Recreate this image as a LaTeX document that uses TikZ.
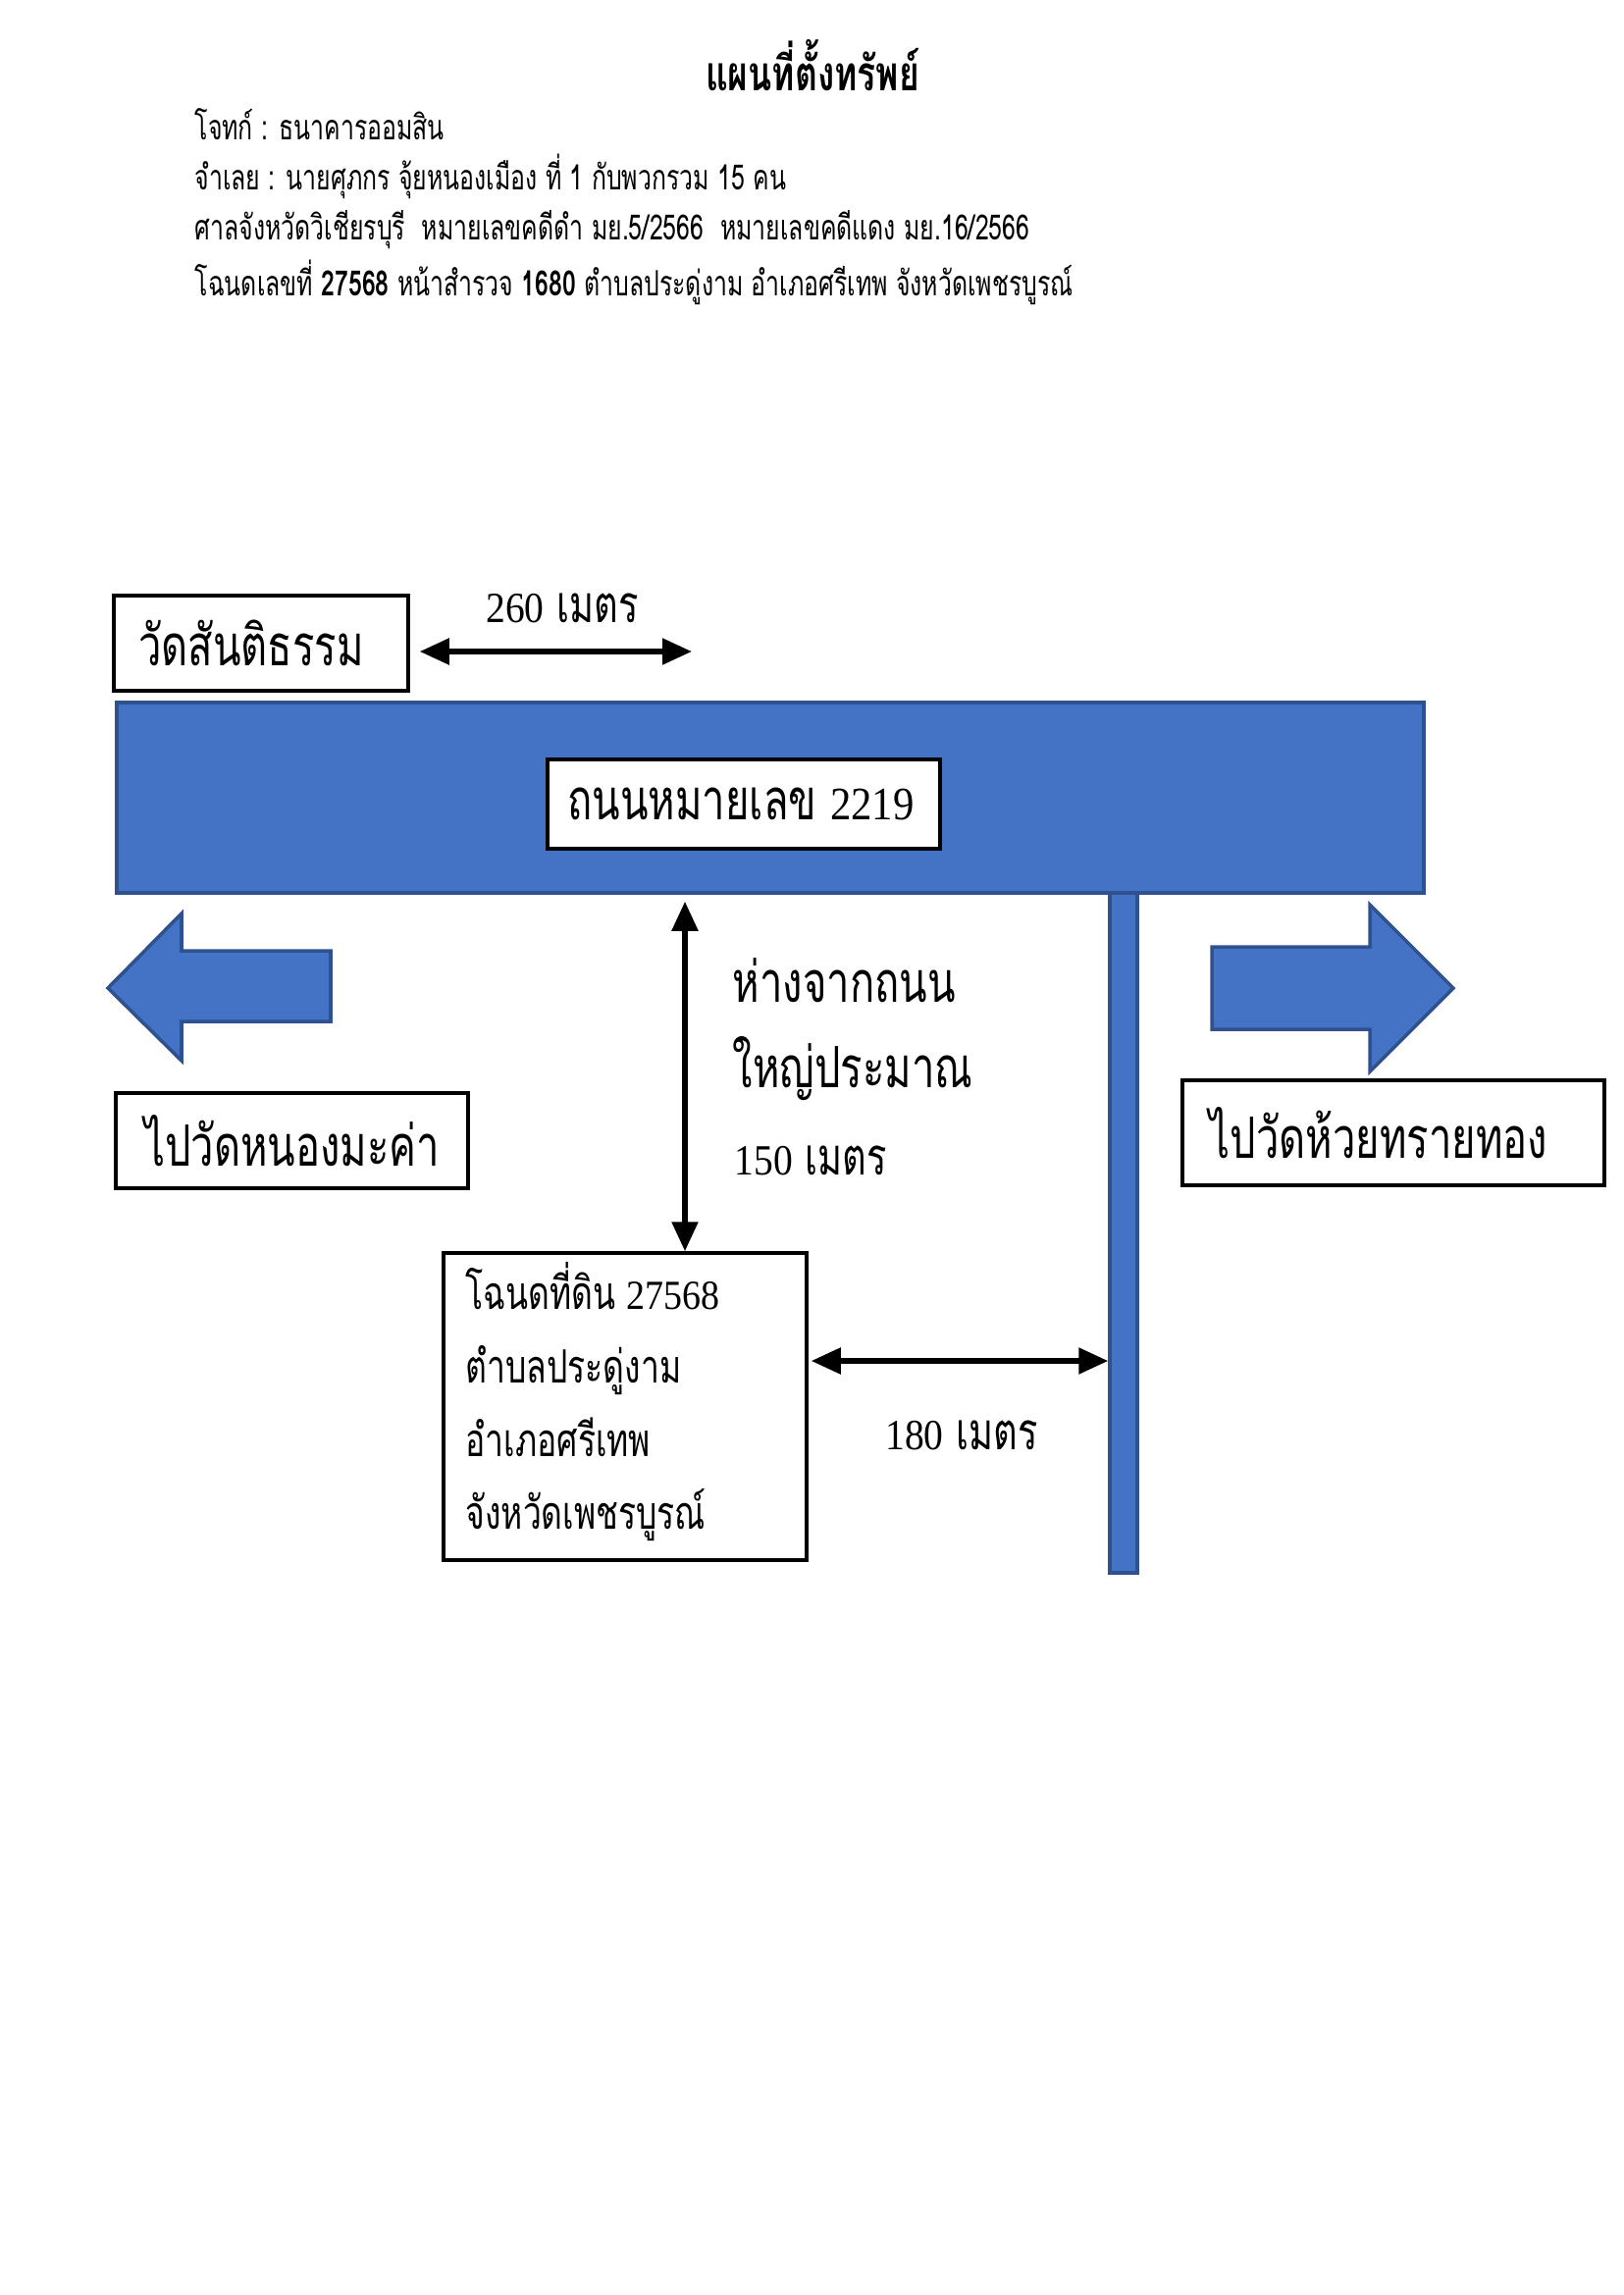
\documentclass[tikz,border=0pt]{standalone}
\usepackage{fontspec}
\usetikzlibrary{arrows.meta}
\newfontfamily\thaihead[Script=Thai,FakeStretch=0.7]{Loma}
\newfontfamily\thaititle[Script=Thai,FakeStretch=0.72]{Loma}
\newfontfamily\thaimap[Script=Thai,FakeStretch=0.72]{Loma}
\newfontfamily\serifdig[FakeStretch=0.9]{Liberation Serif}
\definecolor{roadblue}{HTML}{4472C4}
\definecolor{roadedge}{HTML}{2F528F}
\newcommand{\bigmap}{\thaimap\fontsize{16.5}{19}\selectfont}
\newcommand{\midmap}{\thaimap\fontsize{15}{18}\selectfont}
\newcommand{\smallmap}{\thaimap\fontsize{13.3}{16}\selectfont}
\tikzset{
  box/.style={draw=black,line width=1pt,fill=white,inner sep=0pt},
  road/.style={fill=roadblue,draw=roadedge,line width=1pt},
  maptext/.style={font=\bigmap,inner sep=0pt},
  midtext/.style={font=\midmap,inner sep=0pt},
  deedtext/.style={font=\smallmap,inner sep=0pt,anchor=base west},
  headtext/.style={font=\thaihead\fontsize{10.1}{12}\selectfont,anchor=west,inner sep=0pt},
  dim/.style={line width=1.5pt,{Triangle[length=3mm,width=2.6mm]}-{Triangle[length=3mm,width=2.6mm]}},
}
\begin{document}
\begin{tikzpicture}[x=0.1mm,y=-0.1mm]
\useasboundingbox (0,0) rectangle (1654,2339);
% header
\node[font=\thaititle\bfseries\fontsize{14}{16}\selectfont,inner sep=0pt] (title) at (828,67) {แผนที่ตั้งทรัพย์};
\node[headtext] (h1) at (198,127) {โจทก์ : ธนาคารออมสิน};
\node[headtext] (h2) at (198,180) {จำเลย : นายศุภกร จุ้ยหนองเมือง ที่ 1 กับพวกรวม 15 คน};
\node[headtext] (h3) at (198,234) {ศาลจังหวัดวิเชียรบุรี\ \ หมายเลขคดีดำ มย.5/2566\ \ หมายเลขคดีแดง มย.16/2566};
\node[headtext] (h4) at (198,288) {โฉนดเลขที่ \textbf{27568} หน้าสำรวจ \textbf{1680} ตำบลประดู่งาม อำเภอศรีเทพ จังหวัดเพชรบูรณ์};
% main road
\node[road,minimum width=133.2mm,minimum height=19.4mm,inner sep=0pt] (mainroad) at (785,813) {};
\node[road,minimum width=2.8mm,minimum height=69.3mm,inner sep=0pt] (sideroad) at (1145,1256.5) {};
\node[box,minimum width=40mm,minimum height=9.1mm] (roadname) at (758,819.5) {};
\node[maptext] at ([xshift=-0.3mm]roadname.center) {ถนนหมายเลข {\serifdig\fontsize{13.5}{16}\selectfont 2219}};
% temple box and 260 m
\node[box,minimum width=30mm,minimum height=9.7mm] (wat) at (266,655.5) {};
\node[maptext] at ([xshift=-1mm]wat.center) {วัดสันติธรรม};
\coordinate (w260) at (705,664);
\draw[dim] ([xshift=1mm]wat.east |- w260) -- (w260);
\node[midtext] (t260) at (573,620) {{\serifdig\fontsize{12.5}{15}\selectfont 260} เมตร};
% direction arrows
\draw[road] (110,1007) -- (185,931) -- (185,969) -- (337,969) -- (337,1041) -- (185,1041) -- (185,1081) -- cycle;
\draw[road] (1235,965) -- (1396,965) -- (1396,922) -- (1481,1007) -- (1396,1092) -- (1396,1049) -- (1235,1049) -- cycle;
\node[box,minimum width=35.9mm,minimum height=9.7mm] (leftbox) at (297.5,1162.5) {};
\node[maptext] at (leftbox.center) {ไปวัดหนองมะค่า};
\node[box,minimum width=43mm,minimum height=10.7mm] (rightbox) at (1420,1154.5) {};
\node[maptext] at ([xshift=-1.5mm]rightbox.center) {ไปวัดห้วยทรายทอง};
% deed box
\node[box,minimum width=37mm,minimum height=31.3mm] (deed) at (637,1433.5) {};
\node[deedtext] (d1) at (474,1334) {โฉนดที่ดิน {\serifdig\fontsize{12}{14}\selectfont 27568}};
\node[deedtext] (d2) at (474,1409) {ตำบลประดู่งาม};
\node[deedtext] (d3) at (474,1484) {อำเภอศรีเทพ};
\node[deedtext] (d4) at (474,1558) {จังหวัดเพชรบูรณ์};
% 150 m
\draw[dim] (mainroad.south -| 698,0) ++(0,7) coordinate (a150) -- (deed.north -| a150);
\node[maptext,anchor=west] (v1) at (746,999) {ห่างจากถนน};
\node[maptext,anchor=west] (v2) at (746,1089) {ใหญ่ประมาณ};
\node[midtext,anchor=west] (v3) at (748,1183) {{\serifdig\fontsize{12.5}{15}\selectfont 150} เมตร};
% 180 m
\draw[dim] ([xshift=0.3mm]deed.east |- 0,1387) -- (sideroad.west |- 0,1387);
\node[midtext] (t180) at (980,1463) {{\serifdig\fontsize{12.5}{15}\selectfont 180} เมตร};
\end{tikzpicture}
\end{document}
